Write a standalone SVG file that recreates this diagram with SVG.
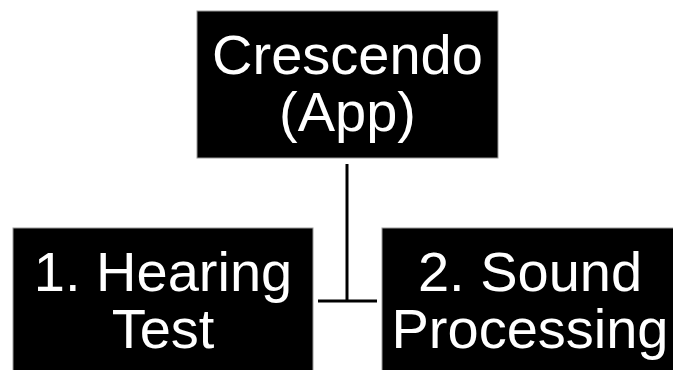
<svg xmlns="http://www.w3.org/2000/svg" width="673" height="370" viewBox="0 0 673 370">
<style>
.box{fill:#000;stroke:#999;stroke-width:1}
.t{font-family:"Liberation Sans",Arial,sans-serif;font-size:56px;fill:#fff;text-anchor:middle}
.c{stroke:#000;stroke-width:3;fill:none}
</style>
<rect width="673" height="370" fill="#fff"/>
<g id="connectors">
<line class="c" x1="347" y1="164" x2="347" y2="302"/>
<line class="c" x1="318" y1="301" x2="377" y2="301"/>
</g>
<g id="app">
<rect class="box" x="197" y="11" width="301" height="147"/>
<text class="t" x="347.5" y="74">Crescendo</text>
<text class="t" x="347.5" y="131">(App)</text>
</g>
<g id="hearing">
<rect class="box" x="13" y="228" width="300" height="150"/>
<text class="t" x="163" y="291">1. Hearing</text>
<text class="t" x="163" y="348">Test</text>
</g>
<g id="sound">
<rect class="box" x="382" y="228" width="300" height="150"/>
<text class="t" x="530" y="291">2. Sound</text>
<text class="t" x="530" y="348">Processing</text>
</g>
</svg>
